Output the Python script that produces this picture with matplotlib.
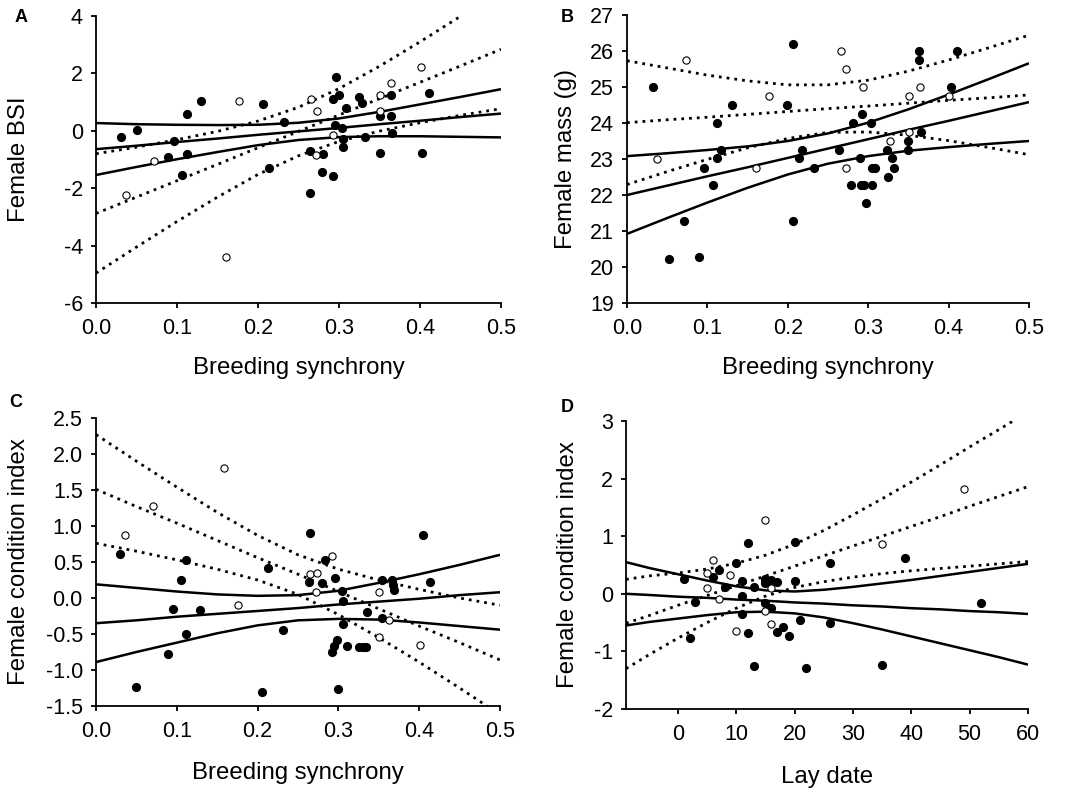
import matplotlib
matplotlib.use("Agg")
import matplotlib.pyplot as plt

plt.rcParams['font.family'] = ['Liberation Sans', 'DejaVu Sans']

# ---------------- Panel A : Female BSI vs breeding synchrony ----------------
A_filled_x = [0.031, 0.050, 0.096, 0.089, 0.112, 0.112, 0.106, 0.130, 0.206, 0.214,
              0.232, 0.264, 0.264, 0.279, 0.280, 0.296, 0.293, 0.300, 0.292, 0.295,
              0.304, 0.305, 0.305, 0.309, 0.325, 0.329, 0.332, 0.351, 0.351, 0.364,
              0.364, 0.366, 0.402, 0.411]
A_filled_y = [-0.23, 0.03, -0.34, -0.90, 0.59, -0.80, -1.53, 1.03, 0.95, -1.30,
              0.31, -2.15, -0.71, -1.43, -0.80, 1.87, 1.11, 1.26, -1.58, 0.21,
              0.11, -0.29, -0.55, 0.78, 1.18, 0.96, -0.20, 0.50, -0.79, 1.26,
              0.52, -0.06, -0.78, 1.33]
A_open_x = [0.037, 0.071, 0.160, 0.177, 0.266, 0.273, 0.272, 0.292, 0.350, 0.351, 0.364, 0.401]
A_open_y = [-2.24, -1.06, -4.41, 1.05, 1.10, 0.69, -0.84, -0.16, 1.23, 0.68, 1.67, 2.21]

A_line_x = [0.0, 0.05, 0.10, 0.15, 0.20, 0.25, 0.30, 0.35, 0.40, 0.45, 0.50]
A_filled_fit = [-0.64, -0.52, -0.39, -0.27, -0.14, -0.02, 0.10, 0.23, 0.35, 0.48, 0.60]
A_filled_up = [0.27, 0.23, 0.21, 0.20, 0.21, 0.28, 0.43, 0.66, 0.92, 1.18, 1.45]
A_filled_lo = [-1.54, -1.26, -0.99, -0.74, -0.50, -0.32, -0.22, -0.19, -0.19, -0.21, -0.23]
A_open_fit = [-2.88, -2.31, -1.74, -1.17, -0.59, -0.02, 0.55, 1.12, 1.69, 2.26, 2.84]
A_open_up = [-0.80, -0.57, -0.31, -0.02, 0.34, 0.82, 1.47, 2.25, 3.10, 3.99, 4.90]
A_open_lo = [-4.96, -4.05, -3.16, -2.31, -1.52, -0.87, -0.37, -0.01, 0.28, 0.54, 0.77]
A_yticks = [-6, -4, -2, 0, 2, 4]
A_ylabels = ['-6', '-4', '-2', '0', '2', '4']

# ---------------- Panel B : Female mass vs breeding synchrony ----------------
B_filled_x = [0.032, 0.052, 0.071, 0.090, 0.096, 0.107, 0.112, 0.112, 0.117, 0.130,
              0.199, 0.206, 0.206, 0.214, 0.218, 0.232, 0.264, 0.279, 0.281, 0.292,
              0.290, 0.291, 0.295, 0.297, 0.304, 0.305, 0.305, 0.309, 0.324, 0.325,
              0.330, 0.332, 0.350, 0.350, 0.363, 0.363, 0.366, 0.403, 0.411]
B_filled_y = [25.01, 20.23, 21.27, 20.27, 22.76, 22.27, 24.00, 23.02, 23.26, 24.51,
              24.51, 26.20, 21.27, 23.02, 23.26, 22.76, 23.26, 22.27, 24.00, 24.25,
              23.02, 22.27, 22.27, 21.77, 24.00, 22.76, 22.27, 22.76, 23.26, 22.51,
              23.02, 22.76, 23.51, 23.26, 26.00, 25.75, 23.75, 25.01, 26.00]
B_open_x = [0.037, 0.073, 0.160, 0.177, 0.266, 0.273, 0.273, 0.293, 0.327, 0.351, 0.351, 0.364, 0.401]
B_open_y = [23.01, 25.75, 22.76, 24.76, 26.00, 25.50, 22.76, 25.00, 23.51, 24.76, 23.75, 25.00, 24.76]

B_line_x = [0.0, 0.05, 0.10, 0.15, 0.20, 0.25, 0.30, 0.35, 0.40, 0.45, 0.50]
B_filled_fit = [22.00, 22.26, 22.52, 22.77, 23.03, 23.29, 23.55, 23.81, 24.06, 24.32, 24.58]
B_filled_up = [23.08, 23.16, 23.25, 23.35, 23.50, 23.71, 24.01, 24.38, 24.79, 25.22, 25.66]
B_filled_lo = [20.92, 21.36, 21.79, 22.20, 22.57, 22.87, 23.08, 23.23, 23.33, 23.42, 23.50]
B_open_fit = [24.01, 24.09, 24.16, 24.24, 24.32, 24.40, 24.47, 24.55, 24.63, 24.70, 24.78]
B_open_up = [25.73, 25.53, 25.33, 25.17, 25.06, 25.06, 25.19, 25.44, 25.75, 26.09, 26.44]
B_open_lo = [22.29, 22.65, 22.99, 23.31, 23.57, 23.74, 23.75, 23.66, 23.51, 23.32, 23.12]
B_yticks = [19, 20, 21, 22, 23, 24, 25, 26, 27]
B_ylabels = ['19', '20', '21', '22', '23', '24', '25', '26', '27']

# ---------------- Panel C : Female condition index vs breeding synchrony ----------------
C_filled_x = [0.030, 0.050, 0.089, 0.095, 0.105, 0.111, 0.111, 0.129, 0.205, 0.213,
              0.231, 0.265, 0.264, 0.280, 0.283, 0.296, 0.292, 0.295, 0.298, 0.299,
              0.305, 0.306, 0.306, 0.311, 0.326, 0.330, 0.334, 0.335, 0.354, 0.354,
              0.366, 0.368, 0.369, 0.405, 0.413]
C_filled_y = [0.61, -1.24, -0.78, -0.15, 0.25, 0.53, -0.50, -0.17, -1.31, 0.41,
              -0.45, 0.90, 0.22, 0.21, 0.53, 0.28, -0.75, -0.66, -0.58, -1.27,
              0.10, -0.04, -0.36, -0.67, -0.68, -0.68, -0.68, -0.20, 0.25, -0.28,
              0.25, 0.18, 0.11, 0.88, 0.22]
C_open_x = [0.036, 0.071, 0.159, 0.176, 0.265, 0.273, 0.272, 0.292, 0.350, 0.350, 0.363, 0.401]
C_open_y = [0.87, 1.28, 1.81, -0.10, 0.33, 0.35, 0.09, 0.59, 0.09, -0.54, -0.30, -0.65]

C_line_x = [0.0, 0.05, 0.10, 0.15, 0.20, 0.25, 0.30, 0.35, 0.40, 0.45, 0.50]
C_filled_fit = [-0.35, -0.31, -0.26, -0.22, -0.18, -0.14, -0.09, -0.05, -0.01, 0.04, 0.08]
C_filled_up = [0.19, 0.14, 0.09, 0.05, 0.03, 0.04, 0.10, 0.21, 0.33, 0.46, 0.60]
C_filled_lo = [-0.89, -0.75, -0.62, -0.49, -0.38, -0.31, -0.29, -0.30, -0.34, -0.39, -0.44]
C_open_fit = [1.51, 1.27, 1.04, 0.80, 0.56, 0.33, 0.09, -0.15, -0.39, -0.62, -0.86]
C_open_up = [2.27, 1.90, 1.54, 1.19, 0.87, 0.60, 0.40, 0.25, 0.12, 0.00, -0.10]
C_open_lo = [0.76, 0.65, 0.53, 0.40, 0.25, 0.05, -0.23, -0.55, -0.89, -1.25, -1.62]
C_yticks = [-1.5, -1.0, -0.5, 0.0, 0.5, 1.0, 1.5, 2.0, 2.5]
C_ylabels = ['-1.5', '-1.0', '-0.5', '0.0', '0.5', '1.0', '1.5', '2.0', '2.5']

# ---------------- Panel D : Female condition index vs lay date ----------------
D_filled_x = [1, 2, 3, 6, 7, 8, 10, 11, 11, 11, 12, 12, 13, 13, 15, 15, 15, 16, 16,
              17, 17, 18, 19, 20, 20, 21, 22, 26, 26, 35, 39, 52]
D_filled_y = [0.26, -0.76, -0.14, 0.29, 0.41, 0.11, 0.53, 0.23, -0.04, -0.35, 0.89, -0.68,
              0.11, -1.26, 0.26, 0.18, -0.16, 0.24, -0.25, 0.20, -0.67, -0.58, -0.74,
              0.90, 0.22, -0.45, -1.29, 0.53, -0.50, -1.23, 0.63, -0.16]
D_open_x = [5, 5, 6, 7, 9, 10, 15, 15, 16, 16, 35, 49]
D_open_y = [0.36, 0.10, 0.59, -0.09, 0.33, -0.65, 1.28, -0.29, 0.10, -0.53, 0.87, 1.82]

D_line_x = [-8.9, -5, 0, 5, 10, 15, 20, 25, 30, 35, 40, 45, 50, 55, 60]
D_filled_fit = [0.00, -0.02, -0.05, -0.07, -0.10, -0.12, -0.15, -0.17, -0.20, -0.22,
                -0.25, -0.27, -0.30, -0.32, -0.35]
D_filled_up = [0.55, 0.45, 0.34, 0.23, 0.13, 0.06, 0.04, 0.07, 0.12, 0.18, 0.24, 0.31,
               0.38, 0.45, 0.52]
D_filled_lo = [-0.55, -0.49, -0.43, -0.37, -0.32, -0.31, -0.34, -0.41, -0.51, -0.62,
               -0.74, -0.86, -0.98, -1.10, -1.23]
D_open_fit = [-0.51, -0.38, -0.20, -0.03, 0.14, 0.31, 0.48, 0.66, 0.83, 1.00, 1.17,
              1.34, 1.52, 1.69, 1.86]
D_open_up = [0.25, 0.31, 0.36, 0.43, 0.53, 0.67, 0.86, 1.10, 1.37, 1.65, 1.94, 2.24,
             2.55, 2.85, 3.16]
D_open_lo = [-1.30, -1.06, -0.77, -0.50, -0.25, -0.04, 0.11, 0.21, 0.29, 0.35, 0.40,
             0.44, 0.48, 0.52, 0.56]
D_yticks = [-2, -1, 0, 1, 2, 3]
D_ylabels = ['-2', '-1', '0', '1', '2', '3']

synch_xticks = [0.0, 0.1, 0.2, 0.3, 0.4, 0.5]
synch_xlabels = ['0.0', '0.1', '0.2', '0.3', '0.4', '0.5']
lay_xticks = [0, 10, 20, 30, 40, 50, 60]
lay_xlabels = ['0', '10', '20', '30', '40', '50', '60']

W, H = 1066, 788
fig = plt.figure(figsize=(W / 100, H / 100), dpi=100)


def px_axes(x0, x1, ytop, ybot):
    return fig.add_axes([x0 / W, 1 - ybot / H, (x1 - x0) / W, (ybot - ytop) / H])


panels = [
    dict(rect=(96, 501, 16, 303), letter='A', lpos=(21, 17),
         fx=A_filled_x, fy=A_filled_y, ox=A_open_x, oy=A_open_y,
         lx=A_line_x, lines=(A_filled_fit, A_filled_up, A_filled_lo, A_open_fit, A_open_up, A_open_lo),
         xlim=(0, 0.5), ylim=(-6, 4), xt=synch_xticks, xtl=synch_xlabels, yt=A_yticks, ytl=A_ylabels,
         xlabel='Breeding synchrony', ylabel='Female BSI', xlab_y=368, ylab_x=19),
    dict(rect=(627, 1029, 15, 303), letter='B', lpos=(567, 18),
         fx=B_filled_x, fy=B_filled_y, ox=B_open_x, oy=B_open_y,
         lx=B_line_x, lines=(B_filled_fit, B_filled_up, B_filled_lo, B_open_fit, B_open_up, B_open_lo),
         xlim=(0, 0.5), ylim=(19, 27), xt=synch_xticks, xtl=synch_xlabels, yt=B_yticks, ytl=B_ylabels,
         xlabel='Breeding synchrony', ylabel='Female mass (g)', xlab_y=368, ylab_x=566),
    dict(rect=(96, 500, 418, 706), letter='C', lpos=(16, 403),
         fx=C_filled_x, fy=C_filled_y, ox=C_open_x, oy=C_open_y,
         lx=C_line_x, lines=(C_filled_fit, C_filled_up, C_filled_lo, C_open_fit, C_open_up, C_open_lo),
         xlim=(0, 0.5), ylim=(-1.5, 2.5), xt=synch_xticks, xtl=synch_xlabels, yt=C_yticks, ytl=C_ylabels,
         xlabel='Breeding synchrony', ylabel='Female condition index', xlab_y=773, ylab_x=19),
    dict(rect=(626, 1028, 421, 709), letter='D', lpos=(567, 408),
         fx=D_filled_x, fy=D_filled_y, ox=D_open_x, oy=D_open_y,
         lx=D_line_x, lines=(D_filled_fit, D_filled_up, D_filled_lo, D_open_fit, D_open_up, D_open_lo),
         xlim=(-8.9, 60), ylim=(-2, 3), xt=lay_xticks, xtl=lay_xlabels, yt=D_yticks, ytl=D_ylabels,
         xlabel='Lay date', ylabel='Female condition index', xlab_y=777, ylab_x=568),
]

dot_style = (0, (1.0, 1.8))

for p in panels:
    x0, x1, yt, yb = p['rect']
    ax = px_axes(x0, x1, yt, yb)
    fit, up, lo, ofit, oup, olo = p['lines']
    lx = p['lx']
    for arr in (fit, up, lo):
        ax.plot(lx, arr, color='black', lw=1.8, solid_capstyle='butt', zorder=2)
    for arr in (ofit, oup, olo):
        ax.plot(lx, arr, color='black', lw=2.0, linestyle=dot_style, zorder=2)
    ax.plot(p['fx'], p['fy'], 'o', color='black', markersize=5.6, zorder=4)
    ax.plot(p['ox'], p['oy'], 'o', markerfacecolor='white', markeredgecolor='black',
            markeredgewidth=0.8, markersize=5.2, zorder=5)
    ax.set_xlim(*p['xlim'])
    ax.set_ylim(*p['ylim'])
    ax.set_xticks(p['xt'])
    ax.set_xticklabels(p['xtl'])
    ax.set_yticks(p['yt'])
    ax.set_yticklabels(p['ytl'])
    for s in ('top', 'right'):
        ax.spines[s].set_visible(False)
    for s in ('left', 'bottom'):
        ax.spines[s].set_linewidth(1.3)
    ax.tick_params(axis='both', direction='out', length=3.5, width=1.3, labelsize=15.5)
    ax.tick_params(axis='x', pad=7)
    ax.tick_params(axis='y', pad=6)
    ax.set_xlabel(p['xlabel'], fontsize=17.3)
    ax.set_ylabel(p['ylabel'], fontsize=17.3)
    ax.xaxis.label.set_va('center')
    ax.yaxis.label.set_va('center')
    ax.xaxis.set_label_coords(0.5, (yb - p['xlab_y']) / (yb - yt))
    ax.yaxis.set_label_coords((p['ylab_x'] - x0) / (x1 - x0), 0.5)
    fig.text(p['lpos'][0] / W, 1 - p['lpos'][1] / H, p['letter'], fontsize=13,
             fontweight='bold', ha='center', va='center')

fig.savefig('out.png', dpi=100)
